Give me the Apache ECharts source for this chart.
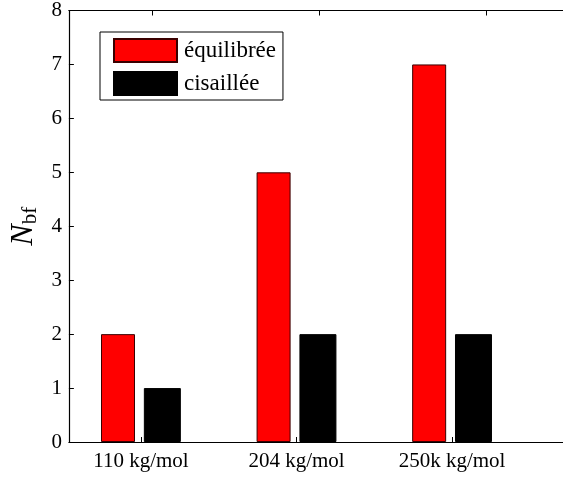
<!DOCTYPE html>
<html>
<head>
<meta charset="utf-8">
<script src="https://cdn.jsdelivr.net/npm/echarts@6/dist/echarts.min.js"></script>
<style>
  html, body { margin: 0; padding: 0; background: #fff; }
  #chart { width: 563px; height: 477px; }
</style>
</head>
<body>
<div id="chart"></div>
<script>
// Données du graphique
var categories = ["110 kg/mol", "204 kg/mol", "250k kg/mol"];
var positions = [1, 2, 3];
var equilibree = [2, 5, 7];
var cisaillee = [1, 2, 2];
var yTicks = [0, 1, 2, 3, 4, 5, 6, 7, 8];

var fontFamily = "Liberation Serif";

var chartDom = document.getElementById("chart");
var myChart = echarts.init(chartDom, null, { renderer: "canvas" });

function pairs(values) {
    return values.map(function (v, i) { return [positions[i], v]; });
}

var option = {
    backgroundColor: "#fff",
    animation: false,
    textStyle: { fontFamily: fontFamily, color: "#000" },
    grid: { left: 66, right: 0, top: 10, bottom: 35, containLabel: false },
    legend: {
        orient: "vertical",
        left: 100,
        top: 32,
        padding: [6, 7, 4, 13],
        itemGap: 8,
        itemWidth: 63,
        itemHeight: 23,
        borderColor: "#000",
        borderWidth: 1,
        backgroundColor: "#fff",
        textStyle: { fontFamily: fontFamily, fontSize: 23, color: "#000", padding: [0, 0, 0, 2] },
        data: [
            { name: "équilibrée", icon: "rect" },
            { name: "cisaillée", icon: "rect" }
        ]
    },
    xAxis: [
        {
            type: "value",
            position: "bottom",
            min: 0.537,
            max: 3.713,
            axisLine: { show: true, lineStyle: { color: "#000", width: 1.2 } },
            axisTick: { show: true, inside: true, length: 5, customValues: positions, lineStyle: { color: "#000" } },
            axisLabel: {
                customValues: positions,
                margin: 9,
                fontSize: 21,
                color: "#000",
                fontFamily: fontFamily,
                formatter: function (v) { return categories[Math.round(v) - 1] || ""; }
            },
            splitLine: { show: false }
        },
        {
            type: "value",
            position: "top",
            min: 0.5,
            max: 3.46,
            axisLine: { show: true, lineStyle: { color: "#000", width: 1.2 } },
            axisTick: { show: true, inside: true, length: 5, customValues: positions, lineStyle: { color: "#000" } },
            axisLabel: { show: false },
            splitLine: { show: false }
        }
    ],
    yAxis: {
        type: "value",
        min: 0,
        max: 8,
        interval: 1,
        name: "{n|N}{s|bf}",
        nameLocation: "middle",
        nameRotate: 90,
        nameGap: 28,
        nameTextStyle: {
            rich: {
                n: { fontFamily: fontFamily, fontStyle: "italic", fontSize: 32, color: "#000" },
                s: { fontFamily: fontFamily, fontSize: 21, color: "#000", padding: [12, 0, 0, 0] }
            }
        },
        axisLine: { show: true, lineStyle: { color: "#000", width: 1.2 } },
        axisTick: { show: true, inside: true, length: 5, lineStyle: { color: "#000" } },
        axisLabel: {
            margin: 7,
            fontSize: 21,
            color: "#000",
            fontFamily: fontFamily,
            customValues: yTicks
        },
        splitLine: { show: false }
    },
    series: [
        {
            name: "équilibrée",
            type: "bar",
            xAxisIndex: 0,
            data: pairs(equilibree),
            barWidth: 34,
            barGap: "26%",
            itemStyle: { color: "#ff0000", borderColor: "#3a0000", borderWidth: 1 }
        },
        {
            name: "cisaillée",
            type: "bar",
            xAxisIndex: 0,
            data: pairs(cisaillee),
            barWidth: 37,
            itemStyle: { color: "#000000", borderColor: "#000", borderWidth: 1 }
        }
    ]
};

myChart.setOption(option);
</script>
</body>
</html>
